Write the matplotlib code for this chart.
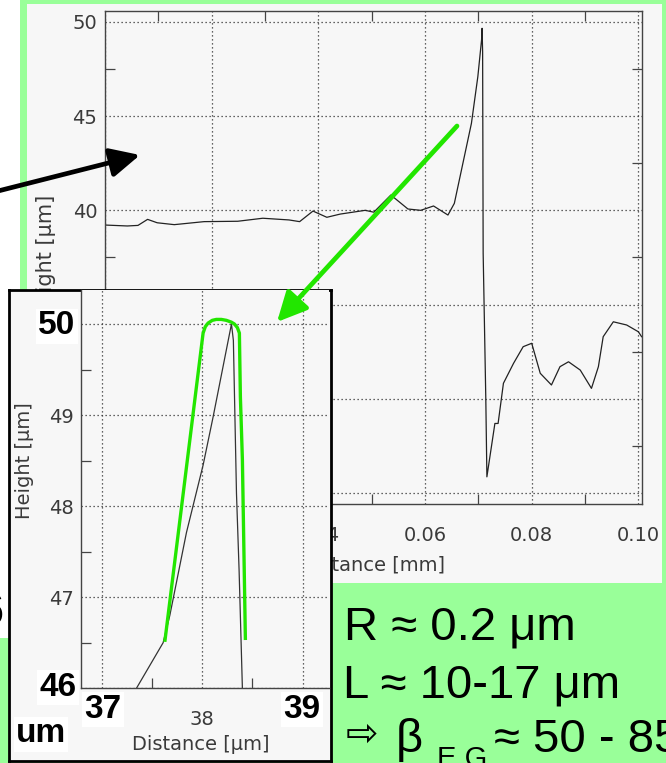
import matplotlib
matplotlib.use("Agg")
import matplotlib.pyplot as plt
from matplotlib.ticker import MultipleLocator, FixedLocator, FixedFormatter

# ---------------- data ----------------
dist_mm = [0.0000, 0.0042, 0.0062, 0.0080, 0.0098, 0.0130, 0.0186, 0.0249, 0.0296,
           0.0345, 0.0365, 0.0390, 0.0416, 0.0441, 0.0488, 0.0504, 0.0536, 0.0568,
           0.0592, 0.0616, 0.0643, 0.0655, 0.0667, 0.0687, 0.0699, 0.0706, 0.0707,
           0.0708, 0.0709, 0.0714, 0.0716, 0.0731, 0.0737, 0.0747, 0.0766, 0.0784,
           0.0800, 0.0816, 0.0837, 0.0853, 0.0869, 0.0891, 0.0912, 0.0925, 0.0934,
           0.0953, 0.0978, 0.1000, 0.1006]
height_um = [39.22, 39.17, 39.20, 39.52, 39.34, 39.24, 39.40, 39.42, 39.58,
             39.49, 39.40, 39.96, 39.63, 39.80, 40.00, 39.90, 40.81, 40.07,
             40.00, 40.23, 39.75, 40.37, 41.96, 44.61, 47.08, 49.03, 49.65,
             48.40, 37.73, 29.94, 25.87, 28.70, 28.70, 30.83, 31.89, 32.77,
             32.95, 31.36, 30.74, 31.71, 31.97, 31.53, 30.56, 31.71, 33.30,
             34.09, 33.92, 33.56, 33.30]

zoom_dist_um = [37.343, 37.609, 37.676, 37.842, 38.008, 38.108, 38.291,
                38.310, 38.341, 38.367, 38.400]
zoom_height_um = [46.00, 46.50, 46.80, 47.71, 48.45, 48.98, 50.00,
                  49.82, 48.14, 47.30, 46.00]

tip_fit_x = [37.626, 38.008, 38.030, 38.058, 38.100, 38.140, 38.190, 38.240,
             38.290, 38.320, 38.350, 38.370, 38.380, 38.400, 38.420, 38.430]
tip_fit_y = [46.51, 49.90, 49.97, 50.01, 50.04, 50.05, 50.05, 50.04,
             50.02, 50.00, 49.96, 49.90, 49.20, 48.51, 47.19, 46.53]

main_xticks = [0.00, 0.02, 0.04, 0.06, 0.08, 0.10]
main_yticks = [25, 30, 35, 40, 45, 50]
inset_xticks = [37, 38, 39]
inset_xticklabels = ["", "38", ""]
inset_yticks = [46, 47, 48, 49, 50]
inset_yticklabels = ["", "47", "48", "49", ""]

result_lines = ["R \u2248 0.2 \u03bcm", "L \u2248 10-17 \u03bcm"]

# ---------------- figure ----------------
W, H = 666, 763
fig = plt.figure(figsize=(W / 100, H / 100), dpi=100)
fig.patch.set_facecolor("white")

GREEN = "#99ff99"
PANEL = "#f7f7f7"
LINEC = "#444444"
TXT = "#3a3a3a"

def rect(px0, py0, px1, py1):
    return [px0 / W, 1 - py1 / H, (px1 - px0) / W, (py1 - py0) / H]

# background layer (pixel coordinates)
bg = fig.add_axes([0, 0, 1, 1], zorder=-10)
bg.set_xlim(0, W); bg.set_ylim(H, 0); bg.axis("off")
bg.add_patch(plt.Rectangle((20, 0), W - 20, H, color=GREEN, lw=0))
bg.add_patch(plt.Rectangle((0, 0), 20, 638, color="white", lw=0))
bg.add_patch(plt.Rectangle((0, 638), 20, H - 638, color=GREEN, lw=0))
bg.add_patch(plt.Rectangle((27, 4), 662 - 27, 583 - 4, color=PANEL, lw=0))

# ---------------- main plot ----------------
ax = fig.add_axes(rect(104.9, 10.7, 641.5, 504), zorder=0)
ax.set_facecolor(PANEL)
ax.plot(dist_mm, height_um, color="#222222", lw=0.9)
ax.set_xlim(0, 0.10058)
ax.set_ylim(24.43, 50.583)
ax.xaxis.set_major_locator(FixedLocator(main_xticks))
ax.yaxis.set_major_locator(FixedLocator(main_yticks))
ax.xaxis.set_major_formatter(FixedFormatter(["%.2f" % v for v in main_xticks]))
ax.yaxis.set_major_formatter(FixedFormatter(["%d" % v for v in main_yticks]))
ax.xaxis.set_minor_locator(MultipleLocator(0.01))
ax.yaxis.set_minor_locator(MultipleLocator(2.5))
ax.grid(True, which="major", color="#333333", lw=0.9, linestyle=(0, (1, 2.2)))
ax.tick_params(which="major", length=0, labelsize=14, labelcolor=TXT)
ax.tick_params(axis="x", which="major", pad=16)
ax.tick_params(axis="y", which="major", pad=5.5)
ax.tick_params(which="minor", direction="in", length=7, width=0.9, color=LINEC,
               top=True, right=True, bottom=True, left=True)
for s in ax.spines.values():
    s.set_color(LINEC); s.set_linewidth(1.0)
ax.set_xlabel("Distance [mm]", fontsize=14, color=TXT)
ax.set_ylabel("Height [\u03bcm]", fontsize=15, color=TXT)
ax.xaxis.set_label_coords(0.5, -(565 - 504) / 493.3)
ax.xaxis.label.set_va("center")
ax.yaxis.set_label_coords(-(104.9 - 45.5) / 536.6, 0.5)
ax.yaxis.label.set_va("center")

# ---------------- inset panel ----------------
frame = fig.add_axes(rect(8.5, 290, 330.5, 761), zorder=1)
frame.set_facecolor(PANEL)
frame.set_xticks([]); frame.set_yticks([])
for s in frame.spines.values():
    s.set_color("black"); s.set_linewidth(2.0)

ins = fig.add_axes(rect(81, 290, 329, 688.3), zorder=2)
ins.set_facecolor(PANEL)
ins.plot(zoom_dist_um, zoom_height_um, color="#333333", lw=0.9)
ins.plot(tip_fit_x, tip_fit_y, color="#22e600", lw=2.4, solid_capstyle="butt",
         solid_joinstyle="round", clip_on=False, zorder=5)
ins.set_xlim(36.79, 39.264)
ins.set_ylim(46.0, 50.373)
ins.xaxis.set_major_locator(FixedLocator(inset_xticks))
ins.xaxis.set_major_formatter(FixedFormatter(inset_xticklabels))
ins.yaxis.set_major_locator(FixedLocator(inset_yticks))
ins.yaxis.set_major_formatter(FixedFormatter(inset_yticklabels))
ins.xaxis.set_minor_locator(MultipleLocator(0.5))
ins.yaxis.set_minor_locator(MultipleLocator(0.5))
ins.grid(True, which="major", color="#333333", lw=0.9, linestyle=(0, (1, 2.2)))
ins.tick_params(which="major", length=0, labelsize=14, labelcolor=TXT)
ins.tick_params(axis="x", which="major", pad=15.5)
ins.tick_params(axis="y", which="major", pad=5.5)
ins.tick_params(which="minor", direction="in", length=7, width=0.9, color=LINEC)
for k in ("top", "right"):
    ins.spines[k].set_visible(False)
for k in ("left", "bottom"):
    ins.spines[k].set_color(LINEC); ins.spines[k].set_linewidth(1.0)
ins.set_xlabel("Distance [\u03bcm]", fontsize=14, color=TXT)
ins.set_ylabel("Height [\u03bcm]", fontsize=14, color=TXT)
ins.xaxis.set_label_coords((201 - 81) / 248, -(744 - 688.3) / 398.3)
ins.xaxis.label.set_va("center")
ins.yaxis.set_label_coords(-(81 - 25) / 248, (688.3 - 461) / 398.3)
ins.yaxis.label.set_va("center")

# ---------------- overlay (pixel coordinates) ----------------
ov = fig.add_axes([0, 0, 1, 1], zorder=10)
ov.set_xlim(0, W); ov.set_ylim(H, 0); ov.axis("off")
ov.patch.set_alpha(0)

bold = dict(fontsize=24, fontweight="bold", family="Liberation Sans", color="black",
            ha="center", va="center",
            bbox=dict(facecolor="white", edgecolor="none", pad=1.5))
ov.text(57, 326, "50", **bold)
ov.text(58, 687, "46", **bold)
ov.text(103, 709, "37", **bold)
ov.text(302, 709, "39", **bold)
ov.text(41, 734, "um", **bold)

ov.annotate("", xy=(140, 155), xytext=(-2, 191),
            arrowprops=dict(arrowstyle="-|>,head_length=0.45,head_width=0.22",
                            mutation_scale=40, lw=3.4, color="black",
                            shrinkA=0, shrinkB=0))
ov.annotate("", xy=(277, 322), xytext=(457, 126),
            arrowprops=dict(arrowstyle="-|>,head_length=0.45,head_width=0.22",
                            mutation_scale=40, lw=3.4, color="#22e600",
                            shrinkA=0, shrinkB=0))

big = dict(fontsize=34, family=["Liberation Sans", "DejaVu Sans"], color="black",
           va="baseline", ha="left")
ov.text(344, 640, result_lines[0], **big)
ov.text(343, 697, result_lines[1], **big)
ov.text(346, 746, "\u21e8", fontsize=28, family=["DejaVu Sans"], color="black",
        va="baseline", ha="left")
ov.text(396, 752, "\u03b2", **big)
ov.text(437, 767, "E G", fontsize=21, family="Liberation Sans", color="black",
        va="baseline", ha="left")
ov.text(494, 752, "\u2248 50 - 85", **big)
ov.text(4, 625, "6", fontsize=34, family="Liberation Sans", color="black",
        va="baseline", ha="right")

fig.savefig("out.png", dpi=100)
